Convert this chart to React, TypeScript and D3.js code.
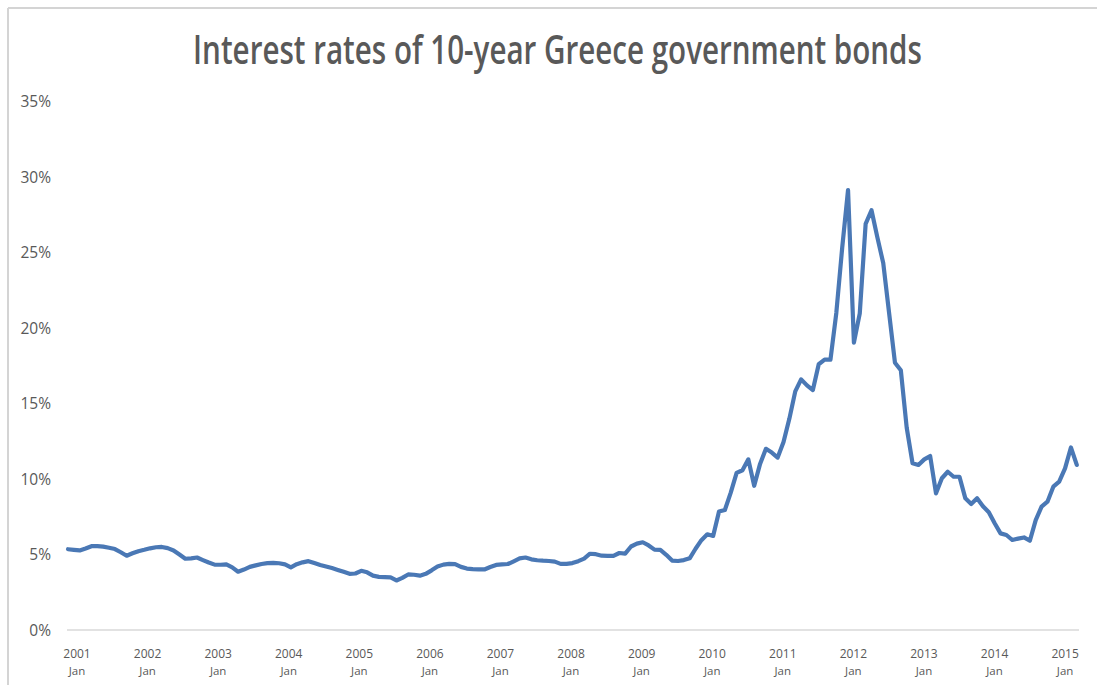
import React from "react";
import * as d3 from "d3";

// Monthly interest rates (%), Jan 2001 .. May 2015
const rates2001 = [5.35, 5.31, 5.27, 5.40, 5.55, 5.56, 5.52, 5.45, 5.36, 5.15, 4.92, 5.08];
const rates2002 = [5.22, 5.31, 5.41, 5.48, 5.50, 5.42, 5.27, 5.00, 4.72, 4.74, 4.80, 4.63];
const rates2003 = [4.47, 4.33, 4.32, 4.34, 4.15, 3.86, 4.00, 4.18, 4.28, 4.37, 4.43, 4.45];
const rates2004 = [4.42, 4.35, 4.15, 4.36, 4.48, 4.56, 4.43, 4.30, 4.20, 4.10, 3.98, 3.85];
const rates2005 = [3.72, 3.74, 3.92, 3.82, 3.60, 3.52, 3.50, 3.48, 3.28, 3.45, 3.68, 3.66];
const rates2006 = [3.60, 3.72, 3.95, 4.20, 4.33, 4.38, 4.36, 4.18, 4.07, 4.03, 4.01, 4.01];
const rates2007 = [4.17, 4.31, 4.34, 4.37, 4.55, 4.74, 4.80, 4.68, 4.62, 4.59, 4.57, 4.53];
const rates2008 = [4.38, 4.38, 4.43, 4.56, 4.73, 5.05, 5.02, 4.92, 4.91, 4.91, 5.10, 5.06];
const rates2009 = [5.53, 5.72, 5.81, 5.60, 5.32, 5.30, 4.98, 4.60, 4.57, 4.63, 4.75, 5.38];
const rates2010 = [5.95, 6.34, 6.23, 7.85, 7.95, 9.10, 10.40, 10.58, 11.30, 9.55, 11.0, 12.0];
const rates2011 = [11.75, 11.42, 12.45, 14.0, 15.8, 16.6, 16.2, 15.89, 17.6, 17.9, 17.9, 21.0];
const rates2012 = [25.3, 29.14, 19.03, 20.97, 26.9, 27.8, 26.0, 24.3, 21.0, 17.7, 17.2, 13.4];
const rates2013 = [11.04, 10.93, 11.3, 11.52, 9.05, 10.05, 10.48, 10.15, 10.15, 8.72, 8.34, 8.72];
const rates2014 = [8.2, 7.8, 7.07, 6.40, 6.29, 5.96, 6.05, 6.13, 5.91, 7.28, 8.17, 8.50];
const rates2015 = [9.49, 9.82, 10.70, 12.09, 10.93];

const years = ["2001", "2002", "2003", "2004", "2005", "2006", "2007", "2008", "2009", "2010", "2011", "2012", "2013", "2014", "2015"];
const monthLabel = "Jan";
const yTicks = [0, 5, 10, 15, 20, 25, 30, 35];
const title = "Interest rates of 10-year Greece government bonds";

const values: number[] = [
  ...rates2001, ...rates2002, ...rates2003, ...rates2004, ...rates2005,
  ...rates2006, ...rates2007, ...rates2008, ...rates2009, ...rates2010,
  ...rates2011, ...rates2012, ...rates2013, ...rates2014, ...rates2015,
];

const W = 1097;
const H = 685;

export default function App() {
  const x = d3.scaleLinear().domain([0, 172]).range([68, 68 + 172 * 5.865]);
  const y = d3.scaleLinear().domain([0, 35]).range([630, 101.5]);
  const line = d3
    .line<number>()
    .x((_, i) => x(i))
    .y((d) => y(d))
    .curve(d3.curveLinear);

  const font = "'Open Sans', 'DejaVu Sans', sans-serif";
  const txt = "#595959";

  return (
    <svg
      width={W}
      height={H}
      style={{ position: "absolute", left: 0, top: 0, display: "block", background: "#fff" }}
    >
      <rect x={0} y={0} width={W} height={H} fill="#fff" />
      {/* chart frame */}
      <line x1={8} y1={8} x2={W} y2={8} stroke="#d4d4d4" strokeWidth={2} />
      <line x1={8} y1={8} x2={8} y2={H} stroke="#d4d4d4" strokeWidth={2} />

      <g transform="translate(557.5,64) scale(0.8,1)">
        <text
          x={0}
          y={0}
          textAnchor="middle"
          fontFamily={font}
          fontSize={39}
          fontWeight={600}
          fill={txt}
          textLength={911}
          lengthAdjust="spacingAndGlyphs"
        >
          {title}
        </text>
      </g>

      {yTicks.map((t) => (
        <text
          key={t}
          x={51}
          y={y(t)}
          dy="0.36em"
          textAnchor="end"
          fontFamily={font}
          fontSize={15.5}
          fill={txt}
        >
          {t}%
        </text>
      ))}

      <line x1={67} y1={y(0)} x2={1079} y2={y(0)} stroke="#d9d9d9" strokeWidth={1.5} />

      {years.map((yr, k) => {
        const cx = x(k * 12) + 9 + k * 0.2;
        return (
          <g key={yr} fontFamily={font} fill={txt} textAnchor="middle">
            <text x={cx} y={658} fontSize={12}>{yr}</text>
            <text x={cx} y={675} fontSize={11.5}>{monthLabel}</text>
          </g>
        );
      })}

      <path
        d={line(values) || ""}
        fill="none"
        stroke="#4a78b5"
        strokeWidth={4.2}
        strokeLinejoin="round"
        strokeLinecap="round"
      />
    </svg>
  );
}
